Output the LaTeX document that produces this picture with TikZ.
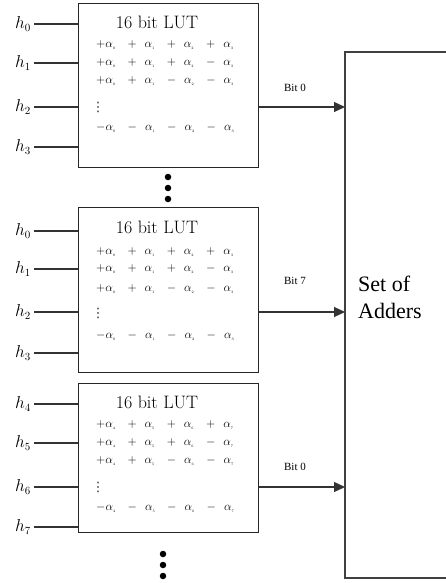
\documentclass[tikz,border=0pt]{standalone}
\usepackage{fontspec}
\usepackage{graphicx}
\newfontfamily\timesf{Liberation Serif}
\newfontfamily\dejaf{DejaVu Sans}
\usetikzlibrary{arrows.meta}
\newcommand{\ta}[1]{\alpha_{\scalebox{0.6}{$\scriptscriptstyle #1$}}}
\newcommand{\lutrow}[8]{$#1\ta{#2}$\hspace{12pt}$#3$\hspace{8pt}$\ta{#4}$\hspace{12pt}$#5$\hspace{8pt}$\ta{#6}$\hspace{12pt}$#7$\hspace{8pt}$\ta{#8}$}
\tikzset{
  lutbox/.style={draw=black!85, line width=1.3pt, minimum width=180pt, inner sep=0pt, anchor=north west},
  adderbox/.style={draw=black!75, line width=1.6pt},
  wire/.style={draw=black!80, line width=1.1pt},
  arr/.style={wire, -{Triangle[length=11pt,width=10pt]}},
  hlab/.style={font=\fontsize{16}{18}\selectfont, anchor=east, inner sep=0pt},
  titlelab/.style={font=\fontsize{18}{20}\selectfont, inner sep=0pt},
  rowlab/.style={font=\fontsize{12}{13}\selectfont, anchor=west, inner sep=0pt},
  vdotlab/.style={font=\dejaf\fontsize{13}{14}\selectfont, anchor=center, inner sep=0pt, text=black!85},
  bitlab/.style={font=\timesf\fontsize{11}{13}\selectfont, inner sep=0pt},
  addlab/.style={font=\timesf\fontsize{22}{27}\selectfont, align=left, anchor=west, inner sep=0pt},
  dot/.style={circle, fill=black, inner sep=0pt, minimum size=6.5pt}
}
\begin{document}
\begin{tikzpicture}[x=1pt,y=-1pt]
\useasboundingbox (0,0) rectangle (446,583);
% LUT boxes
\node[lutbox, minimum height=164pt] (lut1) at (78,3) {};
\node[lutbox, minimum height=165pt] (lut2) at (78,207) {};
\node[lutbox, minimum height=149pt] (lut3) at (78,383) {};
% adder box (right edge outside the picture)
\coordinate (addtl) at (345,52);
\coordinate (addbl) at (345,578);
\coordinate (addtr) at (452,52);
\coordinate (addbr) at (452,578);
\begin{scope}
\clip (0,0) rectangle (446,583);
\draw[adderbox] (addtr) -- (addtl) -- (addbl) -- (addbr);
\end{scope}
\node[addlab] (adders) at (358,297) {Set of\\Adders};
% titles
\node[titlelab] (t1) at (157,22) {16 bit LUT};
\node[titlelab] (t2) at (157,227) {16 bit LUT};
\node[titlelab] (t3) at (157,402) {16 bit LUT};
% rows box 1
\node[rowlab] (r11) at (96,45) {\lutrow{+}{0}{+}{1}{+}{2}{+}{3}};
\node[rowlab] (r12) at (96,63) {\lutrow{+}{0}{+}{1}{+}{2}{-}{3}};
\node[rowlab] (r13) at (96,81) {\lutrow{+}{0}{+}{1}{-}{2}{-}{3}};
\node[vdotlab] (r14) at (98,107) {⋮};
\node[rowlab] (r15) at (96,128) {\lutrow{-}{0}{-}{1}{-}{2}{-}{3}};
% rows box 2
\node[rowlab] (r21) at (96,252) {\lutrow{+}{0}{+}{1}{+}{2}{+}{3}};
\node[rowlab] (r22) at (96,269) {\lutrow{+}{0}{+}{1}{+}{2}{-}{3}};
\node[rowlab] (r23) at (96,289) {\lutrow{+}{0}{+}{1}{-}{2}{-}{3}};
\node[vdotlab] (r24) at (98,313) {⋮};
\node[rowlab] (r25) at (96,336) {\lutrow{-}{0}{-}{1}{-}{2}{-}{3}};
% rows box 3
\node[rowlab] (r31) at (96,425) {\lutrow{+}{4}{+}{5}{+}{6}{+}{7}};
\node[rowlab] (r32) at (96,443) {\lutrow{+}{4}{+}{5}{+}{6}{-}{7}};
\node[rowlab] (r33) at (96,461) {\lutrow{+}{4}{+}{5}{-}{6}{-}{7}};
\node[vdotlab] (r34) at (98,487) {⋮};
\node[rowlab] (r35) at (96,508) {\lutrow{-}{4}{-}{5}{-}{6}{-}{7}};
% inputs
\foreach \name/\lab/\y in {a0/h_0/24, a1/h_1/63, a2/h_2/107, a3/h_3/147,
                           b0/h_0/231, b1/h_1/269, b2/h_2/312, b3/h_3/353,
                           c0/h_4/404, c1/h_5/443, c2/h_6/487, c3/h_7/527}{
  \node[hlab] (\name) at (31,\y) {$\lab$};
  \coordinate (\name e) at (78,\y);
  \draw[wire] (\name.east) ++(3,0) -- (\name e);
}
% outputs
\coordinate (o1) at (lut1.east |- 0,107);
\coordinate (o2) at (lut2.east |- 0,312);
\coordinate (o3) at (lut3.east |- 0,487);
\coordinate (i1) at (addtl |- 0,107);
\coordinate (i2) at (addtl |- 0,312);
\coordinate (i3) at (addtl |- 0,487);
\draw[arr] (o1) -- (i1);
\draw[arr] (o2) -- (i2);
\draw[arr] (o3) -- (i3);
\node[bitlab] (b1l) at (295,88) {Bit 0};
\node[bitlab] (b2l) at (295,281) {Bit 7};
\node[bitlab] (b3l) at (295,467) {Bit 0};
% continuation dots
\node[dot] (d1) at (168,177) {};
\node[dot] (d2) at (168,188) {};
\node[dot] (d3) at (168,199) {};
\node[dot] (d4) at (163,554) {};
\node[dot] (d5) at (163,565) {};
\node[dot] (d6) at (163,576) {};
\end{tikzpicture}
\end{document}
